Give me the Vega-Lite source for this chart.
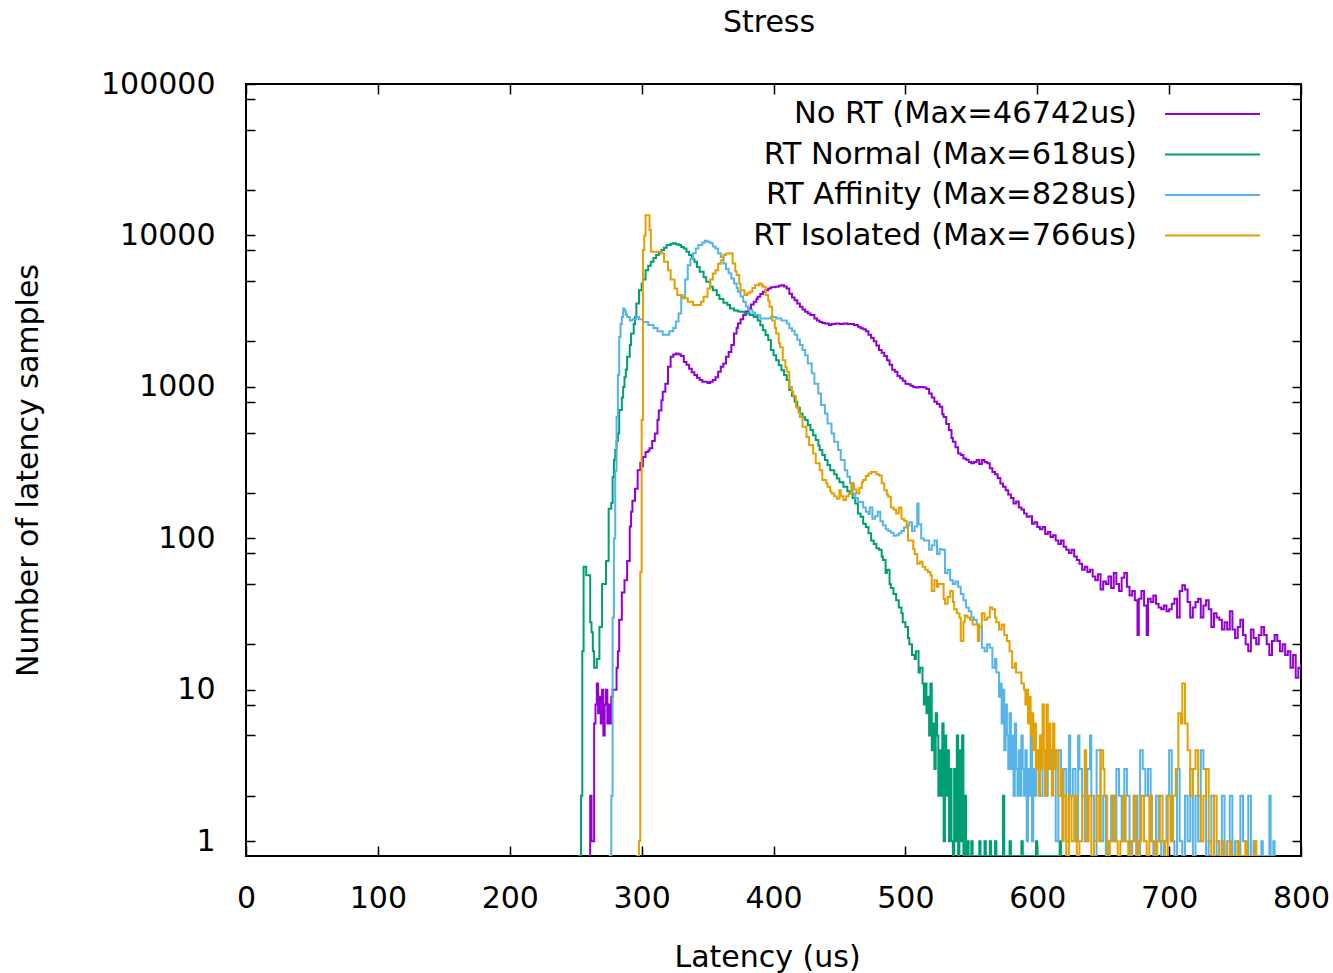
{
"$schema":"https://vega.github.io/schema/vega-lite/v6.json",
"width":1055,"height":772,
"autosize":{"type":"none"},
"padding":{"left":246,"top":84,"right":32,"bottom":117},
"background":"white",
"config":{"font":"DejaVu Sans","view":{"stroke":"#000","strokeWidth":2}},
"data":{"values":[
{"s":"p","x":260,"y":0},{"s":"p","x":261,"y":2},{"s":"p","x":262,"y":1},{"s":"p","x":264,"y":6},{"s":"p","x":265,"y":8},{"s":"p","x":266,"y":11},{"s":"p","x":267,"y":7},{"s":"p","x":268,"y":9},{"s":"p","x":269,"y":6},{"s":"p","x":270,"y":10},{"s":"p","x":271,"y":5},{"s":"p","x":272,"y":8},{"s":"p","x":273,"y":10},{"s":"p","x":274,"y":6},{"s":"p","x":275,"y":8},{"s":"p","x":276,"y":6},{"s":"p","x":277,"y":9},{"s":"p","x":278,"y":10},{"s":"p","x":280,"y":10},{"s":"p","x":281,"y":14},{"s":"p","x":282,"y":18},{"s":"p","x":283,"y":29},{"s":"p","x":285,"y":44},{"s":"p","x":287,"y":53},{"s":"p","x":289,"y":71},{"s":"p","x":291,"y":120},{"s":"p","x":292,"y":150},{"s":"p","x":293,"y":177},{"s":"p","x":295,"y":213},{"s":"p","x":297,"y":282},{"s":"p","x":299,"y":316},{"s":"p","x":300,"y":300},{"s":"p","x":301,"y":345},{"s":"p","x":303,"y":372},{"s":"p","x":305,"y":380},{"s":"p","x":306,"y":393},{"s":"p","x":308,"y":440},{"s":"p","x":310,"y":493},{"s":"p","x":312,"y":604},{"s":"p","x":313,"y":700},{"s":"p","x":315,"y":818},{"s":"p","x":316,"y":930},{"s":"p","x":318,"y":1050},{"s":"p","x":320,"y":1360},{"s":"p","x":322,"y":1580},{"s":"p","x":324,"y":1640},{"s":"p","x":326,"y":1660},{"s":"p","x":328,"y":1640},{"s":"p","x":330,"y":1600},{"s":"p","x":332,"y":1460},{"s":"p","x":334,"y":1400},{"s":"p","x":336,"y":1320},{"s":"p","x":338,"y":1250},{"s":"p","x":340,"y":1200},{"s":"p","x":342,"y":1150},{"s":"p","x":344,"y":1110},{"s":"p","x":346,"y":1080},{"s":"p","x":348,"y":1080},{"s":"p","x":350,"y":1060},{"s":"p","x":352,"y":1080},{"s":"p","x":354,"y":1110},{"s":"p","x":356,"y":1160},{"s":"p","x":358,"y":1260},{"s":"p","x":360,"y":1360},{"s":"p","x":362,"y":1430},{"s":"p","x":364,"y":1580},{"s":"p","x":366,"y":1700},{"s":"p","x":368,"y":1890},{"s":"p","x":370,"y":2250},{"s":"p","x":372,"y":2450},{"s":"p","x":373,"y":2620},{"s":"p","x":375,"y":2800},{"s":"p","x":377,"y":2980},{"s":"p","x":379,"y":3150},{"s":"p","x":381,"y":3300},{"s":"p","x":383,"y":3500},{"s":"p","x":385,"y":3650},{"s":"p","x":387,"y":3800},{"s":"p","x":388,"y":3940},{"s":"p","x":390,"y":4100},{"s":"p","x":392,"y":4250},{"s":"p","x":394,"y":4350},{"s":"p","x":396,"y":4470},{"s":"p","x":398,"y":4550},{"s":"p","x":401,"y":4590},{"s":"p","x":404,"y":4650},{"s":"p","x":406,"y":4700},{"s":"p","x":408,"y":4600},{"s":"p","x":410,"y":4470},{"s":"p","x":412,"y":4130},{"s":"p","x":414,"y":3900},{"s":"p","x":416,"y":3740},{"s":"p","x":418,"y":3550},{"s":"p","x":420,"y":3380},{"s":"p","x":422,"y":3250},{"s":"p","x":424,"y":3130},{"s":"p","x":426,"y":3050},{"s":"p","x":428,"y":2980},{"s":"p","x":431,"y":2830},{"s":"p","x":433,"y":2750},{"s":"p","x":435,"y":2680},{"s":"p","x":437,"y":2640},{"s":"p","x":439,"y":2620},{"s":"p","x":442,"y":2560},{"s":"p","x":444,"y":2600},{"s":"p","x":447,"y":2620},{"s":"p","x":450,"y":2600},{"s":"p","x":453,"y":2620},{"s":"p","x":456,"y":2600},{"s":"p","x":458,"y":2600},{"s":"p","x":461,"y":2560},{"s":"p","x":464,"y":2500},{"s":"p","x":466,"y":2440},{"s":"p","x":468,"y":2400},{"s":"p","x":470,"y":2330},{"s":"p","x":472,"y":2210},{"s":"p","x":474,"y":2100},{"s":"p","x":476,"y":2000},{"s":"p","x":478,"y":1880},{"s":"p","x":480,"y":1750},{"s":"p","x":482,"y":1680},{"s":"p","x":484,"y":1600},{"s":"p","x":486,"y":1500},{"s":"p","x":488,"y":1400},{"s":"p","x":490,"y":1300},{"s":"p","x":492,"y":1260},{"s":"p","x":494,"y":1180},{"s":"p","x":496,"y":1140},{"s":"p","x":498,"y":1100},{"s":"p","x":500,"y":1050},{"s":"p","x":502,"y":1040},{"s":"p","x":504,"y":1020},{"s":"p","x":506,"y":1000},{"s":"p","x":508,"y":990},{"s":"p","x":510,"y":1000},{"s":"p","x":512,"y":1000},{"s":"p","x":514,"y":990},{"s":"p","x":516,"y":970},{"s":"p","x":518,"y":906},{"s":"p","x":520,"y":850},{"s":"p","x":522,"y":798},{"s":"p","x":524,"y":770},{"s":"p","x":526,"y":740},{"s":"p","x":528,"y":660},{"s":"p","x":529,"y":634},{"s":"p","x":531,"y":570},{"s":"p","x":533,"y":519},{"s":"p","x":535,"y":460},{"s":"p","x":536,"y":434},{"s":"p","x":538,"y":400},{"s":"p","x":540,"y":364},{"s":"p","x":542,"y":355},{"s":"p","x":544,"y":337},{"s":"p","x":546,"y":330},{"s":"p","x":548,"y":320},{"s":"p","x":550,"y":313},{"s":"p","x":552,"y":320},{"s":"p","x":554,"y":329},{"s":"p","x":556,"y":310},{"s":"p","x":558,"y":329},{"s":"p","x":560,"y":320},{"s":"p","x":562,"y":313},{"s":"p","x":564,"y":290},{"s":"p","x":566,"y":274},{"s":"p","x":568,"y":265},{"s":"p","x":570,"y":250},{"s":"p","x":572,"y":230},{"s":"p","x":574,"y":219},{"s":"p","x":576,"y":208},{"s":"p","x":578,"y":195},{"s":"p","x":580,"y":185},{"s":"p","x":582,"y":170},{"s":"p","x":584,"y":175},{"s":"p","x":586,"y":160},{"s":"p","x":588,"y":155},{"s":"p","x":590,"y":146},{"s":"p","x":592,"y":139},{"s":"p","x":594,"y":140},{"s":"p","x":596,"y":125},{"s":"p","x":598,"y":128},{"s":"p","x":600,"y":119},{"s":"p","x":602,"y":115},{"s":"p","x":604,"y":119},{"s":"p","x":606,"y":107},{"s":"p","x":608,"y":110},{"s":"p","x":610,"y":102},{"s":"p","x":612,"y":105},{"s":"p","x":614,"y":97},{"s":"p","x":616,"y":92},{"s":"p","x":618,"y":97},{"s":"p","x":620,"y":88},{"s":"p","x":622,"y":84},{"s":"p","x":624,"y":80},{"s":"p","x":626,"y":84},{"s":"p","x":628,"y":76},{"s":"p","x":630,"y":72},{"s":"p","x":632,"y":68},{"s":"p","x":634,"y":62},{"s":"p","x":636,"y":65},{"s":"p","x":638,"y":60},{"s":"p","x":640,"y":62},{"s":"p","x":642,"y":56},{"s":"p","x":644,"y":53},{"s":"p","x":646,"y":58},{"s":"p","x":648,"y":46},{"s":"p","x":650,"y":52},{"s":"p","x":652,"y":50},{"s":"p","x":654,"y":56},{"s":"p","x":656,"y":47},{"s":"p","x":658,"y":59},{"s":"p","x":660,"y":50},{"s":"p","x":662,"y":45},{"s":"p","x":664,"y":55},{"s":"p","x":666,"y":59},{"s":"p","x":668,"y":48},{"s":"p","x":670,"y":42},{"s":"p","x":672,"y":45},{"s":"p","x":674,"y":39},{"s":"p","x":676,"y":23},{"s":"p","x":677,"y":40},{"s":"p","x":679,"y":45},{"s":"p","x":681,"y":36},{"s":"p","x":683,"y":23},{"s":"p","x":684,"y":40},{"s":"p","x":686,"y":38},{"s":"p","x":688,"y":42},{"s":"p","x":690,"y":37},{"s":"p","x":692,"y":35},{"s":"p","x":694,"y":34},{"s":"p","x":696,"y":36},{"s":"p","x":698,"y":33},{"s":"p","x":700,"y":34},{"s":"p","x":702,"y":37},{"s":"p","x":704,"y":40},{"s":"p","x":706,"y":30},{"s":"p","x":708,"y":45},{"s":"p","x":710,"y":49},{"s":"p","x":712,"y":46},{"s":"p","x":714,"y":38},{"s":"p","x":716,"y":30},{"s":"p","x":718,"y":35},{"s":"p","x":720,"y":38},{"s":"p","x":722,"y":40},{"s":"p","x":724,"y":30},{"s":"p","x":726,"y":36},{"s":"p","x":728,"y":39},{"s":"p","x":730,"y":34},{"s":"p","x":732,"y":26},{"s":"p","x":734,"y":32},{"s":"p","x":736,"y":30},{"s":"p","x":738,"y":29},{"s":"p","x":740,"y":25},{"s":"p","x":742,"y":28},{"s":"p","x":744,"y":25},{"s":"p","x":746,"y":33},{"s":"p","x":748,"y":25},{"s":"p","x":750,"y":22},{"s":"p","x":752,"y":26},{"s":"p","x":754,"y":29},{"s":"p","x":756,"y":23},{"s":"p","x":758,"y":20},{"s":"p","x":760,"y":18},{"s":"p","x":762,"y":25},{"s":"p","x":764,"y":22},{"s":"p","x":766,"y":20},{"s":"p","x":768,"y":23},{"s":"p","x":770,"y":26},{"s":"p","x":772,"y":23},{"s":"p","x":774,"y":20},{"s":"p","x":776,"y":17},{"s":"p","x":778,"y":21},{"s":"p","x":780,"y":23},{"s":"p","x":782,"y":21},{"s":"p","x":784,"y":18},{"s":"p","x":786,"y":20},{"s":"p","x":788,"y":17},{"s":"p","x":790,"y":18},{"s":"p","x":792,"y":14},{"s":"p","x":794,"y":17},{"s":"p","x":796,"y":12},{"s":"p","x":798,"y":14},{"s":"p","x":800,"y":15},
{"s":"g","x":252,"y":0},{"s":"g","x":253,"y":0},{"s":"g","x":254,"y":2},{"s":"g","x":255,"y":18},{"s":"g","x":256,"y":65},{"s":"g","x":258,"y":57},{"s":"g","x":260,"y":57},{"s":"g","x":261,"y":28},{"s":"g","x":262,"y":24},{"s":"g","x":263,"y":18},{"s":"g","x":264,"y":14},{"s":"g","x":266,"y":16},{"s":"g","x":268,"y":26},{"s":"g","x":270,"y":50},{"s":"g","x":273,"y":71},{"s":"g","x":275,"y":157},{"s":"g","x":277,"y":171},{"s":"g","x":278,"y":253},{"s":"g","x":279,"y":330},{"s":"g","x":280,"y":383},{"s":"g","x":281,"y":440},{"s":"g","x":282,"y":493},{"s":"g","x":283,"y":703},{"s":"g","x":285,"y":850},{"s":"g","x":286,"y":1000},{"s":"g","x":287,"y":1160},{"s":"g","x":288,"y":1300},{"s":"g","x":289,"y":1580},{"s":"g","x":291,"y":1890},{"s":"g","x":292,"y":2250},{"s":"g","x":294,"y":2600},{"s":"g","x":295,"y":2900},{"s":"g","x":296,"y":3560},{"s":"g","x":298,"y":4350},{"s":"g","x":300,"y":4800},{"s":"g","x":301,"y":5120},{"s":"g","x":303,"y":5900},{"s":"g","x":305,"y":6300},{"s":"g","x":307,"y":6700},{"s":"g","x":309,"y":7100},{"s":"g","x":311,"y":7430},{"s":"g","x":313,"y":7700},{"s":"g","x":315,"y":8020},{"s":"g","x":317,"y":8300},{"s":"g","x":319,"y":8650},{"s":"g","x":322,"y":8800},{"s":"g","x":324,"y":8870},{"s":"g","x":326,"y":8750},{"s":"g","x":328,"y":8650},{"s":"g","x":330,"y":8400},{"s":"g","x":332,"y":8200},{"s":"g","x":334,"y":7800},{"s":"g","x":336,"y":7430},{"s":"g","x":338,"y":7000},{"s":"g","x":340,"y":6700},{"s":"g","x":342,"y":6200},{"s":"g","x":344,"y":5750},{"s":"g","x":347,"y":5300},{"s":"g","x":349,"y":4940},{"s":"g","x":352,"y":4580},{"s":"g","x":354,"y":4350},{"s":"g","x":357,"y":4050},{"s":"g","x":359,"y":3800},{"s":"g","x":362,"y":3600},{"s":"g","x":365,"y":3470},{"s":"g","x":367,"y":3300},{"s":"g","x":370,"y":3200},{"s":"g","x":373,"y":3150},{"s":"g","x":375,"y":3130},{"s":"g","x":378,"y":3050},{"s":"g","x":382,"y":2980},{"s":"g","x":385,"y":2900},{"s":"g","x":388,"y":2750},{"s":"g","x":390,"y":2550},{"s":"g","x":392,"y":2370},{"s":"g","x":394,"y":2200},{"s":"g","x":396,"y":2040},{"s":"g","x":398,"y":1750},{"s":"g","x":400,"y":1620},{"s":"g","x":402,"y":1500},{"s":"g","x":404,"y":1390},{"s":"g","x":406,"y":1290},{"s":"g","x":408,"y":1200},{"s":"g","x":410,"y":1110},{"s":"g","x":412,"y":953},{"s":"g","x":414,"y":870},{"s":"g","x":416,"y":798},{"s":"g","x":418,"y":730},{"s":"g","x":420,"y":668},{"s":"g","x":422,"y":630},{"s":"g","x":424,"y":604},{"s":"g","x":426,"y":560},{"s":"g","x":428,"y":519},{"s":"g","x":430,"y":480},{"s":"g","x":432,"y":446},{"s":"g","x":434,"y":410},{"s":"g","x":435,"y":383},{"s":"g","x":437,"y":355},{"s":"g","x":439,"y":329},{"s":"g","x":441,"y":305},{"s":"g","x":443,"y":282},{"s":"g","x":446,"y":265},{"s":"g","x":448,"y":249},{"s":"g","x":450,"y":235},{"s":"g","x":453,"y":219},{"s":"g","x":456,"y":205},{"s":"g","x":458,"y":198},{"s":"g","x":460,"y":185},{"s":"g","x":462,"y":170},{"s":"g","x":464,"y":146},{"s":"g","x":466,"y":139},{"s":"g","x":468,"y":125},{"s":"g","x":470,"y":119},{"s":"g","x":472,"y":108},{"s":"g","x":474,"y":97},{"s":"g","x":476,"y":92},{"s":"g","x":478,"y":86},{"s":"g","x":480,"y":84},{"s":"g","x":482,"y":76},{"s":"g","x":483,"y":72},{"s":"g","x":485,"y":59},{"s":"g","x":486,"y":62},{"s":"g","x":488,"y":50},{"s":"g","x":489,"y":47},{"s":"g","x":491,"y":43},{"s":"g","x":493,"y":39},{"s":"g","x":495,"y":35},{"s":"g","x":497,"y":32},{"s":"g","x":498,"y":28},{"s":"g","x":500,"y":26},{"s":"g","x":502,"y":22},{"s":"g","x":503,"y":20},{"s":"g","x":505,"y":17},{"s":"g","x":507,"y":16},{"s":"g","x":508,"y":18},{"s":"g","x":510,"y":13},{"s":"g","x":511,"y":14},{"s":"g","x":513,"y":11},{"s":"g","x":514,"y":8},{"s":"g","x":515,"y":11},{"s":"g","x":516,"y":7},{"s":"g","x":517,"y":9},{"s":"g","x":518,"y":5},{"s":"g","x":519,"y":11},{"s":"g","x":520,"y":4},{"s":"g","x":521,"y":6},{"s":"g","x":522,"y":3},{"s":"g","x":523,"y":7},{"s":"g","x":524,"y":5},{"s":"g","x":525,"y":2},{"s":"g","x":526,"y":4},{"s":"g","x":527,"y":2},{"s":"g","x":528,"y":6},{"s":"g","x":529,"y":1},{"s":"g","x":530,"y":5},{"s":"g","x":531,"y":2},{"s":"g","x":532,"y":4},{"s":"g","x":533,"y":1},{"s":"g","x":534,"y":3},{"s":"g","x":535,"y":1},{"s":"g","x":536,"y":0},{"s":"g","x":537,"y":3},{"s":"g","x":538,"y":1},{"s":"g","x":539,"y":5},{"s":"g","x":540,"y":0},{"s":"g","x":541,"y":4},{"s":"g","x":542,"y":1},{"s":"g","x":543,"y":5},{"s":"g","x":544,"y":0},{"s":"g","x":545,"y":2},{"s":"g","x":546,"y":0},{"s":"g","x":547,"y":1},{"s":"g","x":548,"y":0},{"s":"g","x":550,"y":1},{"s":"g","x":551,"y":0},{"s":"g","x":556,"y":1},{"s":"g","x":557,"y":0},{"s":"g","x":560,"y":1},{"s":"g","x":561,"y":0},{"s":"g","x":564,"y":1},{"s":"g","x":565,"y":0},{"s":"g","x":568,"y":1},{"s":"g","x":569,"y":0},{"s":"g","x":574,"y":2},{"s":"g","x":575,"y":0},{"s":"g","x":579,"y":1},{"s":"g","x":580,"y":0},{"s":"g","x":588,"y":1},{"s":"g","x":589,"y":0},{"s":"g","x":599,"y":1},{"s":"g","x":600,"y":0},{"s":"g","x":617,"y":1},{"s":"g","x":618,"y":0},
{"s":"b","x":275,"y":0},{"s":"b","x":276,"y":0},{"s":"b","x":277,"y":2},{"s":"b","x":278,"y":30},{"s":"b","x":279,"y":100},{"s":"b","x":280,"y":280},{"s":"b","x":281,"y":634},{"s":"b","x":282,"y":1200},{"s":"b","x":283,"y":2140},{"s":"b","x":284,"y":2600},{"s":"b","x":285,"y":2900},{"s":"b","x":286,"y":3300},{"s":"b","x":287,"y":3200},{"s":"b","x":288,"y":3000},{"s":"b","x":289,"y":2900},{"s":"b","x":291,"y":2750},{"s":"b","x":293,"y":2800},{"s":"b","x":296,"y":2900},{"s":"b","x":298,"y":2800},{"s":"b","x":301,"y":2680},{"s":"b","x":305,"y":2560},{"s":"b","x":309,"y":2450},{"s":"b","x":312,"y":2330},{"s":"b","x":316,"y":2210},{"s":"b","x":319,"y":2210},{"s":"b","x":321,"y":2330},{"s":"b","x":324,"y":2450},{"s":"b","x":326,"y":2700},{"s":"b","x":328,"y":3050},{"s":"b","x":330,"y":3940},{"s":"b","x":333,"y":5120},{"s":"b","x":335,"y":6370},{"s":"b","x":337,"y":7000},{"s":"b","x":339,"y":7620},{"s":"b","x":341,"y":8200},{"s":"b","x":343,"y":8650},{"s":"b","x":346,"y":9000},{"s":"b","x":348,"y":9230},{"s":"b","x":350,"y":9080},{"s":"b","x":352,"y":8870},{"s":"b","x":354,"y":8450},{"s":"b","x":356,"y":8200},{"s":"b","x":358,"y":7620},{"s":"b","x":360,"y":7200},{"s":"b","x":362,"y":6540},{"s":"b","x":364,"y":6000},{"s":"b","x":366,"y":5630},{"s":"b","x":368,"y":5200},{"s":"b","x":370,"y":4820},{"s":"b","x":372,"y":4500},{"s":"b","x":373,"y":4250},{"s":"b","x":375,"y":3950},{"s":"b","x":377,"y":3650},{"s":"b","x":379,"y":3400},{"s":"b","x":381,"y":3220},{"s":"b","x":384,"y":3100},{"s":"b","x":386,"y":2980},{"s":"b","x":390,"y":2830},{"s":"b","x":394,"y":2830},{"s":"b","x":398,"y":2900},{"s":"b","x":402,"y":2830},{"s":"b","x":406,"y":2750},{"s":"b","x":410,"y":2620},{"s":"b","x":412,"y":2440},{"s":"b","x":414,"y":2350},{"s":"b","x":416,"y":2210},{"s":"b","x":418,"y":2050},{"s":"b","x":420,"y":1890},{"s":"b","x":422,"y":1750},{"s":"b","x":424,"y":1620},{"s":"b","x":426,"y":1430},{"s":"b","x":429,"y":1230},{"s":"b","x":431,"y":1050},{"s":"b","x":434,"y":906},{"s":"b","x":436,"y":759},{"s":"b","x":439,"y":668},{"s":"b","x":441,"y":574},{"s":"b","x":444,"y":493},{"s":"b","x":446,"y":434},{"s":"b","x":449,"y":383},{"s":"b","x":451,"y":329},{"s":"b","x":454,"y":282},{"s":"b","x":456,"y":255},{"s":"b","x":458,"y":231},{"s":"b","x":460,"y":198},{"s":"b","x":462,"y":185},{"s":"b","x":464,"y":174},{"s":"b","x":466,"y":174},{"s":"b","x":468,"y":160},{"s":"b","x":470,"y":150},{"s":"b","x":472,"y":145},{"s":"b","x":473,"y":160},{"s":"b","x":475,"y":135},{"s":"b","x":477,"y":140},{"s":"b","x":479,"y":150},{"s":"b","x":481,"y":130},{"s":"b","x":483,"y":122},{"s":"b","x":485,"y":115},{"s":"b","x":487,"y":112},{"s":"b","x":489,"y":109},{"s":"b","x":491,"y":104},{"s":"b","x":493,"y":105},{"s":"b","x":495,"y":108},{"s":"b","x":497,"y":112},{"s":"b","x":499,"y":118},{"s":"b","x":501,"y":122},{"s":"b","x":503,"y":128},{"s":"b","x":505,"y":112},{"s":"b","x":507,"y":120},{"s":"b","x":509,"y":170},{"s":"b","x":510,"y":124},{"s":"b","x":512,"y":100},{"s":"b","x":514,"y":97},{"s":"b","x":516,"y":97},{"s":"b","x":518,"y":84},{"s":"b","x":520,"y":90},{"s":"b","x":522,"y":97},{"s":"b","x":524,"y":79},{"s":"b","x":526,"y":85},{"s":"b","x":528,"y":84},{"s":"b","x":530,"y":59},{"s":"b","x":532,"y":62},{"s":"b","x":534,"y":53},{"s":"b","x":536,"y":50},{"s":"b","x":538,"y":52},{"s":"b","x":540,"y":48},{"s":"b","x":542,"y":43},{"s":"b","x":544,"y":39},{"s":"b","x":546,"y":35},{"s":"b","x":548,"y":33},{"s":"b","x":550,"y":30},{"s":"b","x":552,"y":29},{"s":"b","x":554,"y":27},{"s":"b","x":556,"y":26},{"s":"b","x":558,"y":19},{"s":"b","x":560,"y":18},{"s":"b","x":562,"y":20},{"s":"b","x":564,"y":19},{"s":"b","x":566,"y":14},{"s":"b","x":568,"y":16},{"s":"b","x":569,"y":13},{"s":"b","x":571,"y":9},{"s":"b","x":572,"y":11},{"s":"b","x":573,"y":6},{"s":"b","x":574,"y":10},{"s":"b","x":575,"y":4},{"s":"b","x":576,"y":8},{"s":"b","x":577,"y":5},{"s":"b","x":578,"y":3},{"s":"b","x":579,"y":7},{"s":"b","x":580,"y":3},{"s":"b","x":581,"y":5},{"s":"b","x":582,"y":2},{"s":"b","x":583,"y":6},{"s":"b","x":584,"y":3},{"s":"b","x":585,"y":2},{"s":"b","x":586,"y":4},{"s":"b","x":587,"y":2},{"s":"b","x":588,"y":5},{"s":"b","x":589,"y":3},{"s":"b","x":590,"y":2},{"s":"b","x":591,"y":4},{"s":"b","x":592,"y":1},{"s":"b","x":593,"y":3},{"s":"b","x":594,"y":2},{"s":"b","x":595,"y":5},{"s":"b","x":596,"y":1},{"s":"b","x":597,"y":3},{"s":"b","x":598,"y":2},{"s":"b","x":599,"y":4},{"s":"b","x":600,"y":3},{"s":"b","x":602,"y":2},{"s":"b","x":604,"y":4},{"s":"b","x":606,"y":2},{"s":"b","x":608,"y":4},{"s":"b","x":610,"y":3},{"s":"b","x":612,"y":4},{"s":"b","x":614,"y":1},{"s":"b","x":616,"y":4},{"s":"b","x":618,"y":2},{"s":"b","x":620,"y":3},{"s":"b","x":622,"y":1},{"s":"b","x":624,"y":5},{"s":"b","x":625,"y":2},{"s":"b","x":627,"y":3},{"s":"b","x":629,"y":1},{"s":"b","x":631,"y":5},{"s":"b","x":632,"y":3},{"s":"b","x":634,"y":2},{"s":"b","x":636,"y":1},{"s":"b","x":638,"y":3},{"s":"b","x":640,"y":5},{"s":"b","x":641,"y":2},{"s":"b","x":643,"y":0},{"s":"b","x":645,"y":4},{"s":"b","x":647,"y":4},{"s":"b","x":648,"y":1},{"s":"b","x":650,"y":2},{"s":"b","x":652,"y":0},{"s":"b","x":654,"y":1},{"s":"b","x":656,"y":2},{"s":"b","x":658,"y":1},{"s":"b","x":660,"y":3},{"s":"b","x":662,"y":2},{"s":"b","x":664,"y":1},{"s":"b","x":666,"y":3},{"s":"b","x":668,"y":2},{"s":"b","x":670,"y":0},{"s":"b","x":672,"y":1},{"s":"b","x":674,"y":2},{"s":"b","x":676,"y":0},{"s":"b","x":678,"y":4},{"s":"b","x":680,"y":3},{"s":"b","x":682,"y":2},{"s":"b","x":684,"y":3},{"s":"b","x":686,"y":1},{"s":"b","x":688,"y":0},{"s":"b","x":690,"y":2},{"s":"b","x":692,"y":1},{"s":"b","x":694,"y":0},{"s":"b","x":696,"y":1},{"s":"b","x":698,"y":2},{"s":"b","x":700,"y":4},{"s":"b","x":702,"y":1},{"s":"b","x":704,"y":0},{"s":"b","x":706,"y":3},{"s":"b","x":708,"y":1},{"s":"b","x":710,"y":0},{"s":"b","x":712,"y":2},{"s":"b","x":714,"y":1},{"s":"b","x":716,"y":3},{"s":"b","x":718,"y":0},{"s":"b","x":720,"y":2},{"s":"b","x":722,"y":1},{"s":"b","x":724,"y":4},{"s":"b","x":726,"y":3},{"s":"b","x":728,"y":0},{"s":"b","x":730,"y":1},{"s":"b","x":732,"y":2},{"s":"b","x":734,"y":0},{"s":"b","x":736,"y":1},{"s":"b","x":738,"y":0},{"s":"b","x":740,"y":2},{"s":"b","x":742,"y":0},{"s":"b","x":744,"y":1},{"s":"b","x":746,"y":2},{"s":"b","x":748,"y":0},{"s":"b","x":750,"y":1},{"s":"b","x":752,"y":0},{"s":"b","x":754,"y":2},{"s":"b","x":756,"y":1},{"s":"b","x":758,"y":0},{"s":"b","x":760,"y":2},{"s":"b","x":762,"y":0},{"s":"b","x":764,"y":1},{"s":"b","x":766,"y":0},{"s":"b","x":770,"y":1},{"s":"b","x":771,"y":0},{"s":"b","x":776,"y":2},{"s":"b","x":777,"y":0},{"s":"b","x":779,"y":1},{"s":"b","x":780,"y":0},
{"s":"o","x":296,"y":0},{"s":"o","x":297,"y":0},{"s":"o","x":298,"y":1},{"s":"o","x":299,"y":60},{"s":"o","x":300,"y":604},{"s":"o","x":301,"y":8020},{"s":"o","x":302,"y":10000},{"s":"o","x":303,"y":13600},{"s":"o","x":305,"y":13600},{"s":"o","x":306,"y":10860},{"s":"o","x":307,"y":7800},{"s":"o","x":311,"y":7800},{"s":"o","x":315,"y":7600},{"s":"o","x":317,"y":6700},{"s":"o","x":320,"y":5900},{"s":"o","x":322,"y":5120},{"s":"o","x":325,"y":4470},{"s":"o","x":327,"y":4050},{"s":"o","x":331,"y":3850},{"s":"o","x":335,"y":3650},{"s":"o","x":339,"y":3470},{"s":"o","x":343,"y":3470},{"s":"o","x":345,"y":3650},{"s":"o","x":347,"y":3940},{"s":"o","x":350,"y":4470},{"s":"o","x":352,"y":5120},{"s":"o","x":354,"y":5600},{"s":"o","x":356,"y":5900},{"s":"o","x":358,"y":6500},{"s":"o","x":360,"y":6870},{"s":"o","x":362,"y":7430},{"s":"o","x":364,"y":7600},{"s":"o","x":367,"y":7620},{"s":"o","x":369,"y":6540},{"s":"o","x":371,"y":5800},{"s":"o","x":372,"y":5480},{"s":"o","x":374,"y":4800},{"s":"o","x":375,"y":4350},{"s":"o","x":378,"y":4050},{"s":"o","x":380,"y":4150},{"s":"o","x":382,"y":4250},{"s":"o","x":384,"y":4500},{"s":"o","x":386,"y":4700},{"s":"o","x":389,"y":4820},{"s":"o","x":391,"y":4700},{"s":"o","x":392,"y":4590},{"s":"o","x":394,"y":4050},{"s":"o","x":396,"y":3700},{"s":"o","x":397,"y":3380},{"s":"o","x":399,"y":2750},{"s":"o","x":401,"y":2450},{"s":"o","x":402,"y":2250},{"s":"o","x":404,"y":1950},{"s":"o","x":405,"y":1830},{"s":"o","x":407,"y":1500},{"s":"o","x":409,"y":1350},{"s":"o","x":410,"y":1260},{"s":"o","x":412,"y":1000},{"s":"o","x":414,"y":930},{"s":"o","x":415,"y":861},{"s":"o","x":417,"y":740},{"s":"o","x":419,"y":680},{"s":"o","x":420,"y":634},{"s":"o","x":422,"y":546},{"s":"o","x":425,"y":468},{"s":"o","x":427,"y":413},{"s":"o","x":430,"y":364},{"s":"o","x":432,"y":313},{"s":"o","x":435,"y":282},{"s":"o","x":437,"y":243},{"s":"o","x":440,"y":230},{"s":"o","x":441,"y":219},{"s":"o","x":443,"y":205},{"s":"o","x":444,"y":198},{"s":"o","x":446,"y":190},{"s":"o","x":448,"y":183},{"s":"o","x":450,"y":208},{"s":"o","x":451,"y":190},{"s":"o","x":453,"y":179},{"s":"o","x":455,"y":190},{"s":"o","x":457,"y":198},{"s":"o","x":459,"y":231},{"s":"o","x":461,"y":210},{"s":"o","x":463,"y":198},{"s":"o","x":465,"y":215},{"s":"o","x":467,"y":235},{"s":"o","x":468,"y":243},{"s":"o","x":470,"y":258},{"s":"o","x":472,"y":268},{"s":"o","x":474,"y":274},{"s":"o","x":476,"y":274},{"s":"o","x":478,"y":265},{"s":"o","x":480,"y":260},{"s":"o","x":482,"y":231},{"s":"o","x":484,"y":208},{"s":"o","x":486,"y":195},{"s":"o","x":487,"y":188},{"s":"o","x":489,"y":160},{"s":"o","x":491,"y":155},{"s":"o","x":493,"y":146},{"s":"o","x":495,"y":160},{"s":"o","x":497,"y":135},{"s":"o","x":499,"y":131},{"s":"o","x":501,"y":120},{"s":"o","x":502,"y":97},{"s":"o","x":504,"y":97},{"s":"o","x":506,"y":85},{"s":"o","x":507,"y":79},{"s":"o","x":509,"y":68},{"s":"o","x":511,"y":70},{"s":"o","x":513,"y":65},{"s":"o","x":515,"y":62},{"s":"o","x":517,"y":60},{"s":"o","x":519,"y":57},{"s":"o","x":520,"y":45},{"s":"o","x":522,"y":53},{"s":"o","x":524,"y":48},{"s":"o","x":525,"y":50},{"s":"o","x":527,"y":50},{"s":"o","x":529,"y":40},{"s":"o","x":530,"y":37},{"s":"o","x":532,"y":41},{"s":"o","x":534,"y":45},{"s":"o","x":536,"y":38},{"s":"o","x":537,"y":34},{"s":"o","x":539,"y":32},{"s":"o","x":541,"y":30},{"s":"o","x":542,"y":21},{"s":"o","x":544,"y":28},{"s":"o","x":545,"y":31},{"s":"o","x":547,"y":30},{"s":"o","x":549,"y":29},{"s":"o","x":551,"y":27},{"s":"o","x":553,"y":27},{"s":"o","x":555,"y":21},{"s":"o","x":556,"y":26},{"s":"o","x":558,"y":32},{"s":"o","x":560,"y":29},{"s":"o","x":562,"y":30},{"s":"o","x":564,"y":35},{"s":"o","x":566,"y":34},{"s":"o","x":568,"y":30},{"s":"o","x":569,"y":28},{"s":"o","x":571,"y":25},{"s":"o","x":573,"y":27},{"s":"o","x":575,"y":23},{"s":"o","x":577,"y":21},{"s":"o","x":579,"y":18},{"s":"o","x":581,"y":14},{"s":"o","x":583,"y":15},{"s":"o","x":584,"y":13},{"s":"o","x":586,"y":13},{"s":"o","x":588,"y":11},{"s":"o","x":590,"y":10},{"s":"o","x":591,"y":8},{"s":"o","x":592,"y":10},{"s":"o","x":593,"y":6},{"s":"o","x":594,"y":9},{"s":"o","x":595,"y":5},{"s":"o","x":596,"y":7},{"s":"o","x":597,"y":4},{"s":"o","x":598,"y":6},{"s":"o","x":599,"y":3},{"s":"o","x":600,"y":4},{"s":"o","x":601,"y":2},{"s":"o","x":602,"y":5},{"s":"o","x":603,"y":3},{"s":"o","x":604,"y":8},{"s":"o","x":605,"y":4},{"s":"o","x":606,"y":2},{"s":"o","x":607,"y":8},{"s":"o","x":608,"y":3},{"s":"o","x":609,"y":6},{"s":"o","x":610,"y":4},{"s":"o","x":611,"y":2},{"s":"o","x":612,"y":6},{"s":"o","x":613,"y":3},{"s":"o","x":614,"y":4},{"s":"o","x":616,"y":2},{"s":"o","x":618,"y":3},{"s":"o","x":619,"y":1},{"s":"o","x":620,"y":2},{"s":"o","x":622,"y":0},{"s":"o","x":624,"y":2},{"s":"o","x":626,"y":1},{"s":"o","x":628,"y":2},{"s":"o","x":630,"y":0},{"s":"o","x":632,"y":1},{"s":"o","x":634,"y":2},{"s":"o","x":636,"y":4},{"s":"o","x":637,"y":1},{"s":"o","x":639,"y":2},{"s":"o","x":641,"y":0},{"s":"o","x":643,"y":1},{"s":"o","x":645,"y":2},{"s":"o","x":647,"y":1},{"s":"o","x":648,"y":4},{"s":"o","x":650,"y":3},{"s":"o","x":651,"y":2},{"s":"o","x":653,"y":0},{"s":"o","x":655,"y":1},{"s":"o","x":657,"y":2},{"s":"o","x":659,"y":1},{"s":"o","x":661,"y":0},{"s":"o","x":663,"y":1},{"s":"o","x":665,"y":2},{"s":"o","x":667,"y":1},{"s":"o","x":669,"y":0},{"s":"o","x":671,"y":1},{"s":"o","x":673,"y":2},{"s":"o","x":675,"y":0},{"s":"o","x":677,"y":1},{"s":"o","x":679,"y":2},{"s":"o","x":681,"y":1},{"s":"o","x":683,"y":0},{"s":"o","x":685,"y":2},{"s":"o","x":687,"y":1},{"s":"o","x":689,"y":0},{"s":"o","x":691,"y":1},{"s":"o","x":693,"y":2},{"s":"o","x":695,"y":1},{"s":"o","x":697,"y":0},{"s":"o","x":699,"y":2},{"s":"o","x":701,"y":1},{"s":"o","x":703,"y":2},{"s":"o","x":705,"y":3},{"s":"o","x":707,"y":7},{"s":"o","x":709,"y":6},{"s":"o","x":710,"y":11},{"s":"o","x":712,"y":6},{"s":"o","x":714,"y":4},{"s":"o","x":716,"y":2},{"s":"o","x":718,"y":3},{"s":"o","x":720,"y":4},{"s":"o","x":722,"y":2},{"s":"o","x":724,"y":1},{"s":"o","x":726,"y":2},{"s":"o","x":728,"y":3},{"s":"o","x":730,"y":1},{"s":"o","x":732,"y":0},{"s":"o","x":734,"y":2},{"s":"o","x":736,"y":1},{"s":"o","x":738,"y":0},{"s":"o","x":741,"y":1},{"s":"o","x":742,"y":0},{"s":"o","x":746,"y":1},{"s":"o","x":747,"y":0},{"s":"o","x":752,"y":1},{"s":"o","x":753,"y":0},{"s":"o","x":758,"y":1},{"s":"o","x":759,"y":0},{"s":"o","x":765,"y":1},{"s":"o","x":766,"y":0}
]},
"layer":[
{"mark":{"type":"line","interpolate":"step-after","strokeWidth":2,"clip":true},
 "encoding":{
  "x":{"field":"x","type":"quantitative","scale":{"domain":[0,800],"nice":false},
   "axis":{"values":[0,100,200,300,400,500,600,700,800],"format":"d","domain":false,"grid":false,"tickSize":-10,"tickColor":"#000","tickWidth":1.5,"labelPadding":37,"labelFont":"DejaVu Sans","labelFontSize":30,"labelColor":"#000","labelFlush":false,"labelOverlap":false,"title":"Latency (us)","titleFont":"DejaVu Sans","titleFontSize":30,"titleFontWeight":"normal","titleColor":"#000","titleX":521,"titleY":110,"titleAlign":"center","titleBaseline":"alphabetic"}},
  "y":{"field":"y","type":"quantitative","scale":{"type":"log","domain":[0.8,100000],"clamp":true,"nice":false},
   "axis":{"values":[1,2,5,8,10,20,50,80,100,200,500,800,1000,2000,5000,8000,10000,20000,50000,80000,100000],"format":"d","labelExpr":"indexof([1,10,100,1000,10000,100000], datum.value) >= 0 ? datum.label : ''","domain":false,"grid":false,"tickSize":-9,"tickColor":"#000","tickWidth":1.5,"labelPadding":40,"labelFont":"DejaVu Sans","labelFontSize":30,"labelColor":"#000","labelFlush":false,"labelOverlap":false,"labelBound":false,"title":"Number of latency samples","titleFont":"DejaVu Sans","titleFontSize":30,"titleFontWeight":"normal","titleColor":"#000","titleX":-209,"titleY":386,"titleAngle":-90,"titleAlign":"center","titleBaseline":"alphabetic"}},
  "color":{"field":"s","type":"nominal","scale":{"domain":["p","g","b","o"],"range":["#9400d3","#009e73","#56b4e9","#e69f00"]},
   "legend":{"orient":"none","legendX":511,"legendY":13,"title":null,"padding":0,"rowPadding":7.5,"symbolType":"M-3,0H3","symbolSize":1003,"symbolStrokeWidth":2,"symbolOffset":438.5,"labelAlign":"right","labelOffset":-92.5,"labelLimit":600,"labelFont":"DejaVu Sans","labelFontSize":30.5,"labelColor":"#000","labelExpr":"{'p':'No RT (Max=46742us)','g':'RT Normal (Max=618us)','b':'RT Affinity (Max=828us)','o':'RT Isolated (Max=766us)'}[datum.label]"}}
 }},
{"mark":{"type":"line","opacity":0},
 "encoding":{
  "x":{"field":"x","type":"quantitative","axis":{"orient":"top","values":[0,100,200,300,400,500,600,700,800],"labels":false,"domain":false,"grid":false,"tickSize":-10,"tickColor":"#000","tickWidth":1.5,"title":"Stress","titleFont":"DejaVu Sans","titleFontSize":30,"titleFontWeight":"normal","titleColor":"#000","titleX":522.5,"titleY":-53,"titleAlign":"center","titleBaseline":"alphabetic","titleAngle":0}},
  "y":{"field":"y","type":"quantitative","axis":{"orient":"right","values":[1,2,5,8,10,20,50,80,100,200,500,800,1000,2000,5000,8000,10000,20000,50000,80000,100000],"labels":false,"domain":false,"grid":false,"tickSize":-9,"tickColor":"#000","tickWidth":1.5,"title":null}}
 }}
],
"resolve":{"axis":{"x":"independent","y":"independent"}}
}
